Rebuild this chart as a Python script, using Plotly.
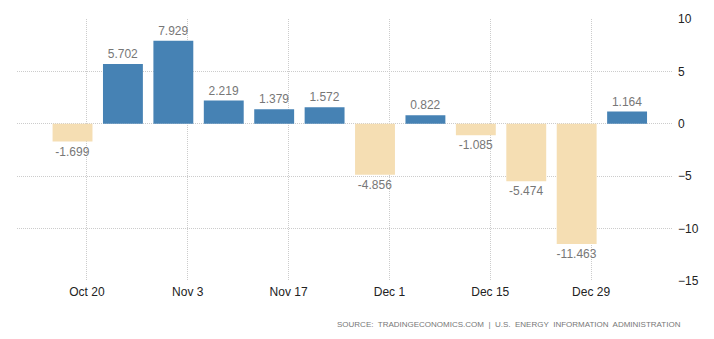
import plotly.graph_objects as go

dates = ["2017-10-18", "2017-10-25", "2017-11-01", "2017-11-08", "2017-11-15", "2017-11-22",
         "2017-11-29", "2017-12-06", "2017-12-13", "2017-12-20", "2017-12-27", "2018-01-03"]
values = [-1.699, 5.702, 7.929, 2.219, 1.379, 1.572, -4.856, 0.822, -1.085, -5.474, -11.463, 1.164]
labels = ["-1.699", "5.702", "7.929", "2.219", "1.379", "1.572", "-4.856", "0.822", "-1.085",
          "-5.474", "-11.463", "1.164"]
tick_dates = ["2017-10-20", "2017-11-03", "2017-11-17", "2017-12-01", "2017-12-15", "2017-12-29"]
tick_text = ["Oct 20", "Nov 3", "Nov 17", "Dec 1", "Dec 15", "Dec 29"]
y_ticks = [10, 5, 0, -5, -10, -15]

colors = ["#4682B4" if v >= 0 else "#F5DEB3" for v in values]

fig = go.Figure(go.Bar(
    x=dates, y=values, text=labels, textposition="outside", constraintext="none",
    cliponaxis=False,
    textfont=dict(family="Arial, Liberation Sans, sans-serif", size=12, color="#777777"),
    marker=dict(color=colors, line=dict(width=0)),
    width=5.54 * 86400000,
))

fig.update_layout(
    width=714, height=339,
    margin=dict(l=17, r=41, t=19, b=57.5),
    paper_bgcolor="white", plot_bgcolor="white",
    showlegend=False,
    xaxis=dict(
        type="date",
        range=["2017-10-10 07:00", "2018-01-09 09:00"],
        tickvals=tick_dates, ticktext=tick_text,
        showgrid=True, gridcolor="#cccccc", griddash="1px,1px", gridwidth=1,
        zeroline=False, showline=False, ticks="",
        tickfont=dict(family="Arial, Liberation Sans, sans-serif", size=12, color="#222222"),
        ticklabelstandoff=2,
    ),
    yaxis=dict(
        side="right", range=[-15, 10], tickvals=y_ticks,
        showgrid=True, gridcolor="#cccccc", griddash="1px,1px", gridwidth=1,
        zeroline=False, showline=False, ticks="",
        tickfont=dict(family="Arial, Liberation Sans, sans-serif", size=12, color="#222222"),
        ticklabelstandoff=4,
    ),
    annotations=[dict(
        text="SOURCE:&nbsp; TRADINGECONOMICS.COM &nbsp;|&nbsp; U.S.&nbsp; ENERGY&nbsp; INFORMATION&nbsp; ADMINISTRATION",
        xref="paper", yref="paper", x=1.0 + 10 / 656, y=0, xanchor="right", yanchor="middle",
        yshift=-43, showarrow=False,
        font=dict(family="Arial, Liberation Sans, sans-serif", size=8, color="#777777"),
    )],
)

fig.write_html("out.html")
